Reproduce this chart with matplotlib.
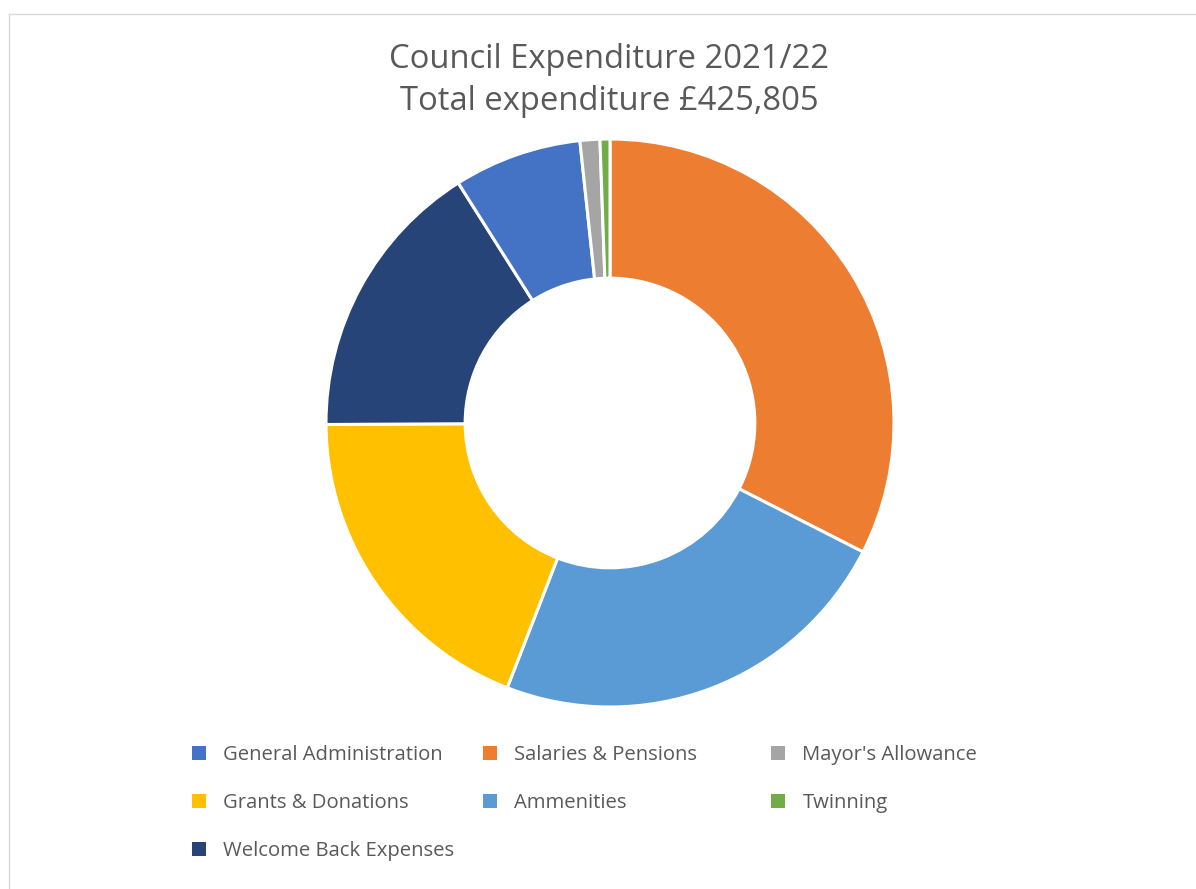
import matplotlib.pyplot as plt
from matplotlib.lines import Line2D
from matplotlib.patches import Patch

# slices in drawing order, clockwise from 12 o'clock
slice_labels = ["Salaries & Pensions", "Ammenities", "Grants & Donations",
                "Welcome Back Expenses", "General Administration",
                "Mayor's Allowance", "Twinning"]
slice_values = [138400, 99600, 81000, 68600, 31000, 4800, 2405]
slice_colors = ["#ED7D31", "#5B9BD5", "#FFC000", "#264478", "#4472C4",
                "#A5A5A5", "#70AD47"]

# legend order as shown (row-major, 3 columns)
legend_rows = [["General Administration", "Salaries & Pensions", "Mayor's Allowance"],
               ["Grants & Donations", "Ammenities", "Twinning"],
               ["Welcome Back Expenses"]]

title = "Council Expenditure 2021/22\nTotal expenditure \u00a3425,805"

plt.rcParams['font.family'] = ['Open Sans', 'DejaVu Sans']
text_color = "#595959"

W, H = 1196, 889
fig = plt.figure(figsize=(W / 100, H / 100), dpi=100)

# chart area border
fig.add_artist(Line2D([9 / W, 9 / W], [0, 1 - 14 / H], color="#D9D9D9", lw=1))
fig.add_artist(Line2D([9 / W, 1], [1 - 14 / H, 1 - 14 / H], color="#D9D9D9", lw=1))

cx, cy, r = 610, 423, 284
ax = fig.add_axes([(cx - r) / W, (H - cy - r) / H, 2 * r / W, 2 * r / H])
ax.pie(slice_values, colors=slice_colors, startangle=90, counterclock=False,
       radius=1, wedgeprops=dict(width=0.49, edgecolor="white", linewidth=2.2))
ax.set_xlim(-1, 1)
ax.set_ylim(-1, 1)
ax.set_aspect("equal")
ax.axis("off")

fig.text(609 / W, 1 - 80 / H, title, ha="center", va="center", fontsize=23.6,
         color=text_color, linespacing=1.36)

# legend, placed per column
color_of = dict(zip(slice_labels, slice_colors))
col_x = [192, 483, 771]
row_y = [755, 803, 851]
for ri, row in enumerate(legend_rows):
    for ci, name in enumerate(row):
        h = [Patch(facecolor=color_of[name], edgecolor="none")]
        leg = fig.legend(h, [name], loc="center left",
                         bbox_to_anchor=(col_x[ci] / W, 1 - row_y[ri] / H),
                         frameon=False, fontsize=14.6, handlelength=0.7,
                         handleheight=0.7, handletextpad=0.85,
                         borderaxespad=0, borderpad=0)
        for t in leg.get_texts():
            t.set_color(text_color)

fig.savefig("out.png", dpi=100, facecolor="white")
